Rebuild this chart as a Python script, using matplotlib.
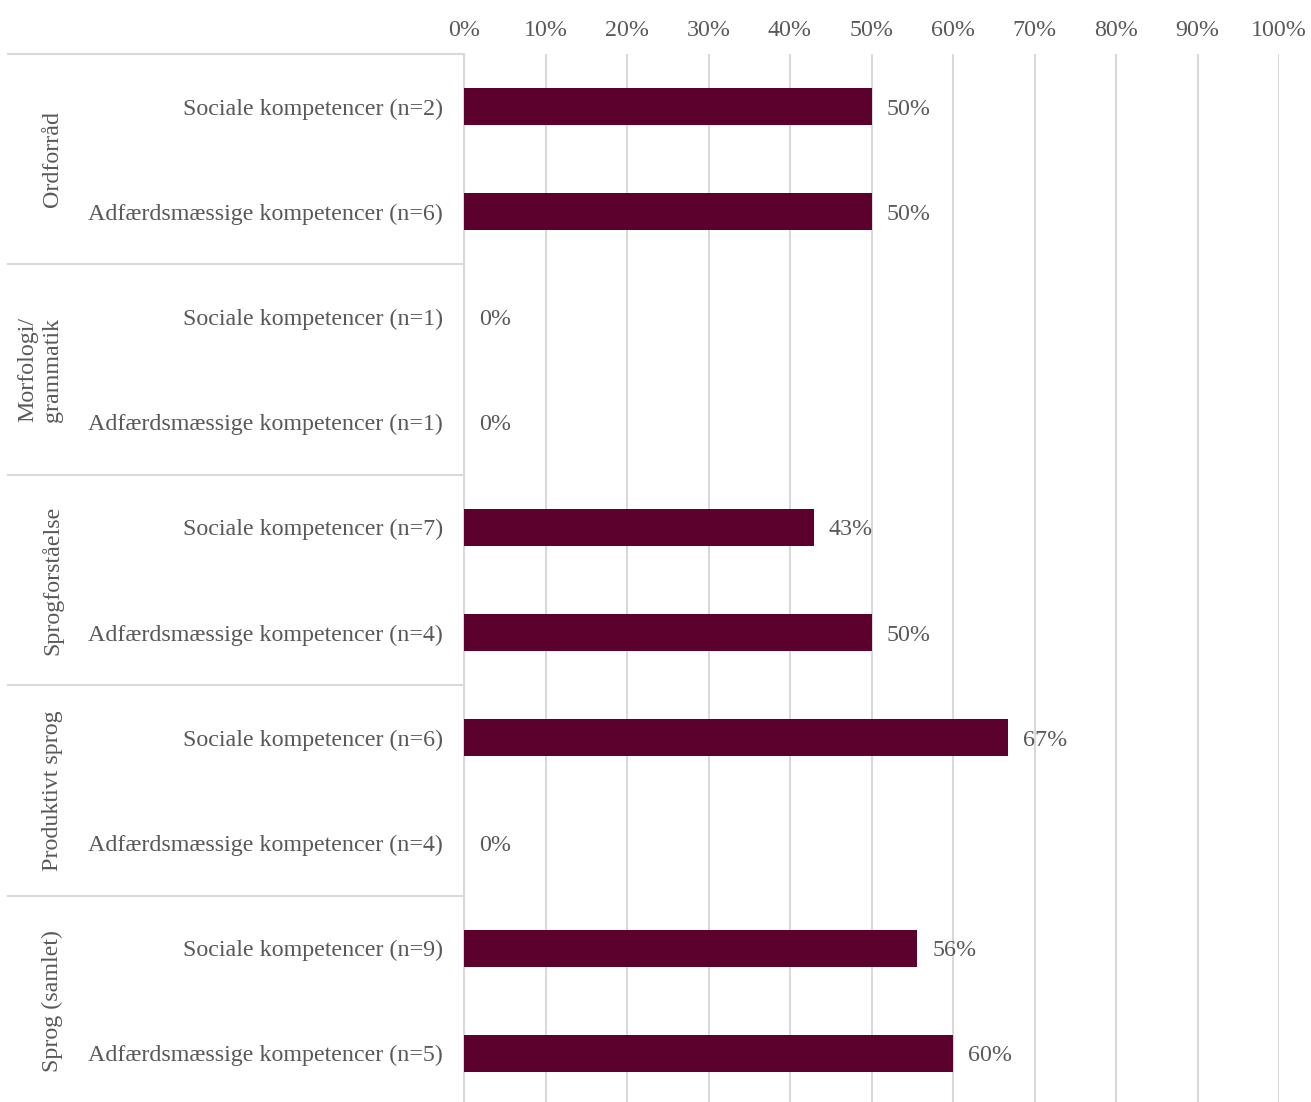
import matplotlib
matplotlib.use("Agg")
import matplotlib.pyplot as plt
import matplotlib.transforms as mtransforms

groups = ["Ordforråd", "Morfologi/\ngrammatik", "Sprogforståelse", "Produktivt sprog", "Sprog (samlet)"]
labels = [
    "Sociale kompetencer (n=2)", "Adfærdsmæssige kompetencer (n=6)",
    "Sociale kompetencer (n=1)", "Adfærdsmæssige kompetencer (n=1)",
    "Sociale kompetencer (n=7)", "Adfærdsmæssige kompetencer (n=4)",
    "Sociale kompetencer (n=6)", "Adfærdsmæssige kompetencer (n=4)",
    "Sociale kompetencer (n=9)", "Adfærdsmæssige kompetencer (n=5)",
]
values = [50, 50, 0, 0, 42.9, 50, 66.7, 0, 55.6, 60]
ticks = [0, 10, 20, 30, 40, 50, 60, 70, 80, 90, 100]

plt.rcParams['font.family'] = ['Liberation Serif', 'DejaVu Serif']
bar_color = "#5C002E"
text_color = "#595959"
grid_color = "#D9D9D9"
fs = 17.3

W, H = 1311, 1102
fig = plt.figure(figsize=(W / 100, H / 100), dpi=100)
x0, x1 = 464, 1279
y_top, y_bot = 54, 1106
ax = fig.add_axes([x0 / W, 1 - y_bot / H, (x1 - x0) / W, (y_bot - y_top) / H])

pos = list(range(len(values)))
ax.barh(pos, values, height=0.35, color=bar_color, zorder=3)
ax.set_xlim(0, 100)
ax.set_ylim(len(values) - 0.5, -0.5)

ax.set_xticks(ticks)
ax.set_xticklabels([f"{t}%" for t in ticks], fontsize=fs, color=text_color)
ax.xaxis.tick_top()
ax.tick_params(axis='x', length=0, pad=9)
ax.set_yticks(pos)
ax.set_yticklabels(labels, fontsize=fs, color=text_color, va="center_baseline")
ax.tick_params(axis='y', length=0, pad=15)
ax.grid(axis='x', color=grid_color, linewidth=1.5, zorder=0)

for s in ["top", "right", "bottom"]:
    ax.spines[s].set_visible(False)
ax.spines["left"].set_color(grid_color)
ax.spines["left"].set_linewidth(1.5)

for p, v in zip(pos, values):
    ax.annotate(f"{round(v):.0f}%", (v, p), xytext=(11, 0), textcoords="offset points",
                ha="left", va="center_baseline", fontsize=fs, color=text_color)

trans = mtransforms.blended_transform_factory(ax.transAxes, ax.transData)
xl = (8 - x0) / (x1 - x0)
for g in range(len(groups)):
    yb = 2 * g - 0.5
    ax.plot([xl, 0], [yb, yb], transform=trans, color=grid_color, linewidth=1.5, clip_on=False)
for g, name in enumerate(groups):
    xpx = 52 if "\n" not in name else 40
    ax.text((xpx - x0) / (x1 - x0), 2 * g + 0.5, name, transform=trans, rotation=90,
            ha="center", va="center", fontsize=fs, color=text_color,
            multialignment="center", linespacing=1.2)

fig.savefig("out.png", dpi=100)
